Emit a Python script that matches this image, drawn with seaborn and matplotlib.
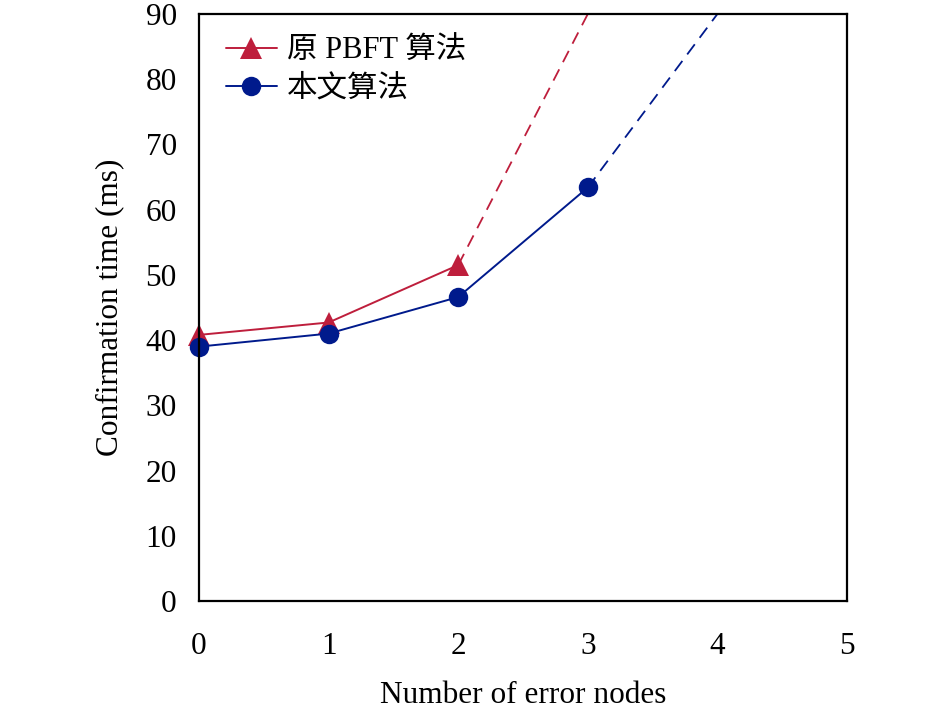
import numpy as np
import pandas as pd
import matplotlib
matplotlib.use("Agg")
import matplotlib.pyplot as plt
import seaborn as sns

# ---- data ----
x_pbft = [0, 1, 2]
y_pbft = [40.8, 42.7, 51.5]
x_pbft_ext = [2, 3]
y_pbft_ext = [51.5, 90.0]

x_ours = [0, 1, 2, 3]
y_ours = [39.0, 41.0, 46.6, 63.4]
x_ours_ext = [3, 4]
y_ours_ext = [63.4, 90.0]

labels = ["原 PBFT 算法", "本文算法"]
x_ticks = [0, 1, 2, 3, 4, 5]
y_ticks = [0, 10, 20, 30, 40, 50, 60, 70, 80, 90]
x_label = "Number of error nodes"
y_label = "Confirmation time (ms)"

sns.set_style("white")
plt.rcParams["font.family"] = ["Liberation Serif", "Noto Sans CJK SC"]
plt.rcParams["text.color"] = "black"
plt.rcParams["axes.labelcolor"] = "black"

RED = "#BE1E3C"
BLUE = "#001A8C"

fig = plt.figure(figsize=(9.45, 7.11), dpi=100)
ax = fig.add_axes([199 / 945, 1 - 601 / 711, (847 - 199) / 945, (601 - 14) / 711])

dash = (0, (7, 4.5))
sns.lineplot(x=x_pbft_ext, y=y_pbft_ext, ax=ax, color=RED, linestyle=dash,
             linewidth=1.3, legend=False)
sns.lineplot(x=x_ours_ext, y=y_ours_ext, ax=ax, color=BLUE, linestyle=dash,
             linewidth=1.3, legend=False)
sns.lineplot(x=x_pbft, y=y_pbft, ax=ax, color=RED, marker="^", markersize=16,
             markeredgewidth=0, linewidth=1.4, label=labels[0], clip_on=False)
sns.lineplot(x=x_ours, y=y_ours, ax=ax, color=BLUE, marker="o", markersize=14,
             markeredgewidth=0, linewidth=1.4, label=labels[1], clip_on=False)

ax.set_xlim(0, 5)
ax.set_ylim(0, 90)
ax.set_xticks(x_ticks)
ax.set_yticks(y_ticks)
ax.tick_params(axis="both", direction="in", length=6, width=1.5, labelsize=22.5,
               colors="black", top=False, right=False)
ax.tick_params(axis="x", pad=22)
ax.tick_params(axis="y", pad=16)
for s in ax.spines.values():
    s.set_linewidth(1.6)
    s.set_color("black")
    s.set_visible(True)

ax.set_xlabel(x_label, fontsize=22.5, labelpad=15)
ax.set_ylabel(y_label, fontsize=22.5, labelpad=15)

leg = ax.legend(loc="upper left", bbox_to_anchor=(0.023, 0.982), frameon=False,
                fontsize=22, handlelength=1.65, handletextpad=0.35, labelspacing=0.28,
                borderaxespad=0)

fig.savefig("out.png", dpi=100)
